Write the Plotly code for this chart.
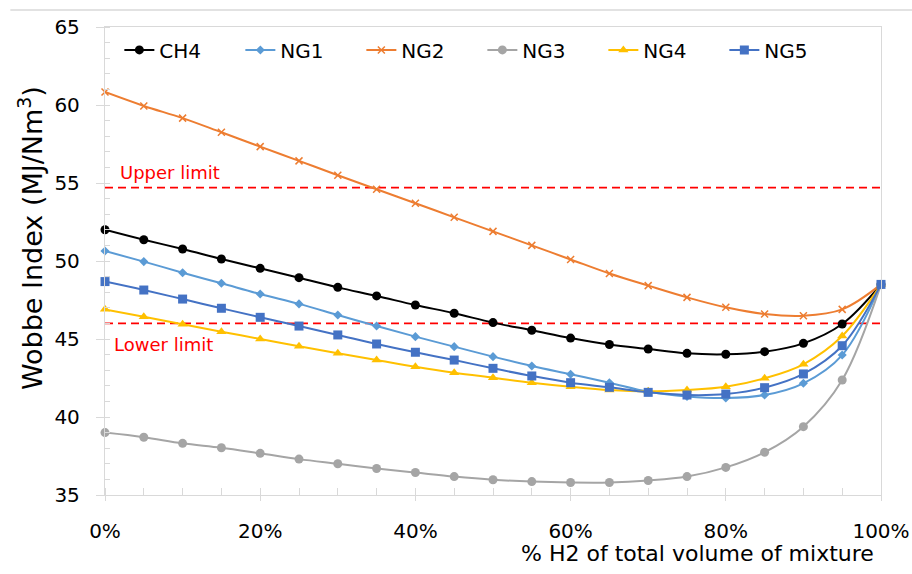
import plotly.graph_objects as go

h2_pct = [0, 5, 10, 15, 20, 25, 30, 35, 40, 45, 50, 55, 60, 65, 70, 75, 80, 85, 90, 95, 100]

ch4 = [52.0, 51.36, 50.77, 50.13, 49.53, 48.93, 48.31, 47.76, 47.18, 46.65, 46.05, 45.56, 45.06, 44.65,
       44.36, 44.08, 44.02, 44.19, 44.72, 45.96, 48.5]
ng1 = [50.64, 49.96, 49.25, 48.57, 47.88, 47.25, 46.54, 45.83, 45.15, 44.51, 43.87, 43.27, 42.74, 42.2,
       41.62, 41.32, 41.22, 41.41, 42.16, 43.97, 48.5]
ng2 = [60.83, 59.94, 59.16, 58.25, 57.33, 56.42, 55.5, 54.6, 53.7, 52.8, 51.9, 51.0, 50.1, 49.2,
       48.42, 47.67, 47.03, 46.6, 46.49, 46.9, 48.5]
ng3 = [39.0, 38.7, 38.31, 38.03, 37.67, 37.3, 37.0, 36.7, 36.44, 36.18, 35.98, 35.86, 35.8, 35.8,
       35.93, 36.18, 36.77, 37.74, 39.38, 42.37, 48.5]
ng4 = [46.9, 46.43, 45.94, 45.47, 45.0, 44.53, 44.08, 43.65, 43.22, 42.84, 42.52, 42.2, 41.94, 41.73,
       41.65, 41.73, 41.94, 42.48, 43.38, 45.19, 48.5]
ng5 = [48.68, 48.14, 47.56, 46.97, 46.39, 45.83, 45.26, 44.68, 44.15, 43.65, 43.12, 42.63, 42.2, 41.9,
       41.58, 41.41, 41.47, 41.88, 42.76, 44.57, 48.5]

upper_limit = 54.7
lower_limit = 46.0

series_names = ["CH4", "NG1", "NG2", "NG3", "NG4", "NG5"]
series_values = [ch4, ng1, ng2, ng3, ng4, ng5]
series_colors = ["#000000", "#5B9BD5", "#ED7D31", "#A5A5A5", "#FFC000", "#4472C4"]
series_symbols = ["circle", "diamond", "x-thin", "circle", "triangle-up", "square"]
series_sizes = [9, 7, 7, 9, 9, 9]

FONT = "DejaVu Sans"
AX = "#D9D9D9"

fig = go.Figure()

# limit lines
for lim in (upper_limit, lower_limit):
    fig.add_trace(go.Scatter(
        x=[h2_pct[0], h2_pct[-1]], y=[lim, lim], mode="lines",
        line=dict(color="#FF0000", width=1.8, dash="8px,5px"),
        showlegend=False, hoverinfo="skip", cliponaxis=False))

for name, vals, col, sym, sz in zip(series_names, series_values, series_colors, series_symbols, series_sizes):
    marker = dict(color=col, symbol=sym, size=sz)
    if sym == "x-thin":
        marker["line"] = dict(color=col, width=1.5)
    fig.add_trace(go.Scatter(
        x=h2_pct, y=vals, name=name, mode="lines+markers",
        line=dict(color=col, width=2, shape="spline"),
        marker=marker, cliponaxis=False))

fig.update_layout(
    width=912, height=574,
    margin=dict(l=105, r=31, t=27, b=79),
    paper_bgcolor="white", plot_bgcolor="white",
    font=dict(family=FONT, size=20, color="#000000"),
    showlegend=True,
    legend=dict(orientation="h", x=0.0185, xanchor="left", y=0.951, yanchor="middle",
                font=dict(family=FONT, size=20), entrywidth=76, entrywidthmode="pixels",
                bgcolor="rgba(0,0,0,0)", itemwidth=30),
    xaxis=dict(range=[0, 100], dtick=20, ticksuffix="%", showgrid=False, zeroline=False,
               automargin=False,
               showline=True, linecolor=AX, linewidth=1.3, mirror=True,
               ticks="outside", ticklen=5, tickcolor=AX, ticklabelstandoff=13,
               tickfont=dict(family=FONT, size=20),
               minor=dict(dtick=5, ticks="inside", ticklen=7, tickcolor=AX)),
    yaxis=dict(range=[35, 65], dtick=5, showgrid=False, zeroline=False,
               automargin=False,
               showline=True, linecolor=AX, linewidth=1.3, mirror=True,
               ticks="outside", ticklen=8, tickcolor=AX, ticklabelstandoff=12,
               tickfont=dict(family=FONT, size=20),
               minor=dict(dtick=1, ticks="inside", ticklen=5, tickcolor=AX)),
    annotations=[
        dict(text="Upper limit", x=1.7, y=55.67, xref="x", yref="y", xanchor="left", yanchor="middle",
             showarrow=False, font=dict(family=FONT, size=18, color="#FF0000")),
        dict(text="Lower limit", x=0.9, y=44.65, xref="x", yref="y", xanchor="left", yanchor="middle",
             showarrow=False, font=dict(family=FONT, size=18, color="#FF0000")),
        dict(text="% H2 of total volume of mixture", x=0.9936, y=-0.126, xref="paper", yref="paper",
             xanchor="right", yanchor="middle", showarrow=False, font=dict(family=FONT, size=22)),
        dict(text="Wobbe Index (MJ/Nm<sup>3</sup>)", x=-0.0966, y=0.549, xref="paper", yref="paper",
             xanchor="center", yanchor="middle", textangle=-90, showarrow=False,
             font=dict(family=FONT, size=27)),
    ],
    shapes=[dict(type="line", xref="paper", yref="paper", x0=-0.122, x1=1.05, y0=1.0363, y1=1.0363,
                 line=dict(color=AX, width=1.3))],
)

fig.write_html("out.html")
